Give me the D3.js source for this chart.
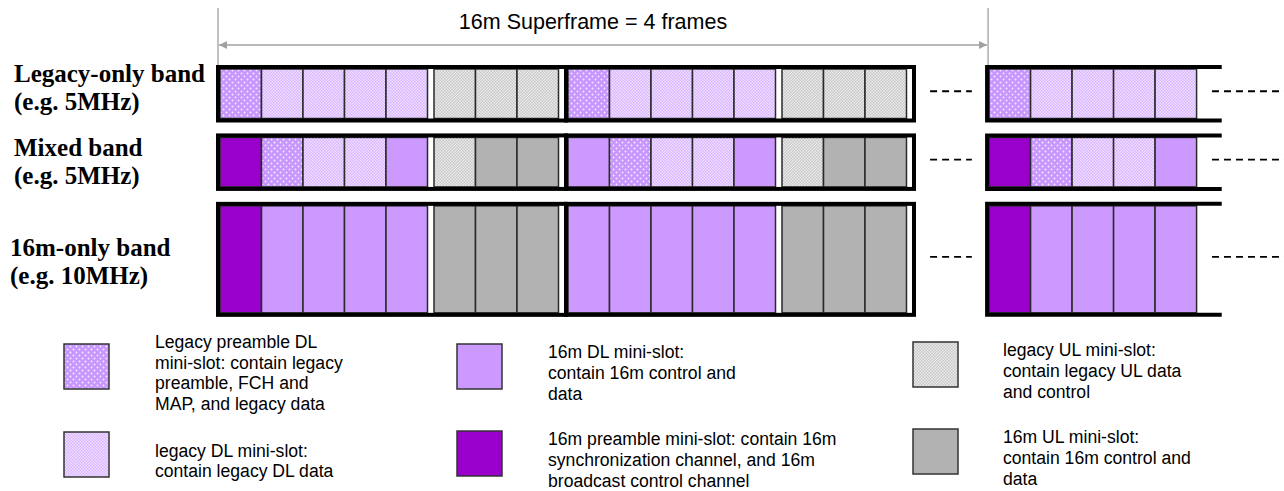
<!DOCTYPE html>
<html>
<head>
<meta charset="utf-8">
<script src="https://cdn.jsdelivr.net/npm/d3@7"></script>
<style>
  body { margin: 0; background: #fff; }
  svg { display: block; }
</style>
</head>
<body>
<div class="chart"></div>
<script>
// ---- data ----
var title = "16m Superframe = 4 frames";

var bandNames = ["Legacy-only band", "Mixed band", "16m-only band"];
var bandNotes = ["(e.g. 5MHz)", "(e.g. 5MHz)", "(e.g. 10MHz)"];
var bandMHz = [5, 5, 10];

// frame positions in "frame" units; the last frame is open on the right
var frameStarts = [0, 1, 2.21];

// mini-slot types per frame, per band
var legacyOnlySlots = [
  ["LP", "LDL", "LDL", "LDL", "LDL", "LUL", "LUL", "LUL"],
  ["LP", "LDL", "LDL", "LDL", "LDL", "LUL", "LUL", "LUL"],
  ["LP", "LDL", "LDL", "LDL", "LDL"]
];
var mixedSlots = [
  ["P16", "LP", "LDL", "LDL", "DL16", "LUL", "UL16", "UL16"],
  ["DL16", "LP", "LDL", "LDL", "DL16", "LUL", "UL16", "UL16"],
  ["P16", "LP", "LDL", "LDL", "DL16"]
];
var only16Slots = [
  ["P16", "DL16", "DL16", "DL16", "DL16", "UL16", "UL16", "UL16"],
  ["DL16", "DL16", "DL16", "DL16", "DL16", "UL16", "UL16", "UL16"],
  ["P16", "DL16", "DL16", "DL16", "DL16"]
];
var bandSlots = [legacyOnlySlots, mixedSlots, only16Slots];

var legendKeys = ["LP", "LDL", "DL16", "P16", "LUL", "UL16"];
var legendTexts = [
  ["Legacy preamble DL", "mini-slot: contain legacy", "preamble, FCH and", "MAP, and legacy data"],
  ["legacy DL mini-slot:", "contain legacy DL data"],
  ["16m DL mini-slot:", "contain 16m control and", "data"],
  ["16m preamble mini-slot: contain 16m", "synchronization channel, and 16m", "broadcast control channel"],
  ["legacy UL mini-slot:", "contain legacy UL data", "and control"],
  ["16m UL mini-slot:", "contain 16m control and", "data"]
];

// ---- layout ----
var W = 1284, H = 491;
var svg = d3.select(".chart").append("svg").attr("width", W).attr("height", H);
var defs = svg.append("defs");

// legacy preamble: purple with white dots
var pLP = defs.append("pattern").attr("id", "pLP").attr("patternUnits", "userSpaceOnUse")
  .attr("width", 6).attr("height", 6);
pLP.append("rect").attr("width", 6).attr("height", 6).attr("fill", "#c896ff");
pLP.append("circle").attr("cx", 1.5).attr("cy", 1.5).attr("r", 0.95).attr("fill", "#f4eaff");
pLP.append("circle").attr("cx", 4.5).attr("cy", 4.5).attr("r", 0.95).attr("fill", "#f4eaff");

// legacy DL: fine lavender checker
var pLDL = defs.append("pattern").attr("id", "pLDL").attr("patternUnits", "userSpaceOnUse")
  .attr("width", 3).attr("height", 3);
pLDL.append("rect").attr("width", 3).attr("height", 3).attr("fill", "#f0e2ff");
pLDL.append("rect").attr("width", 1.5).attr("height", 1.5).attr("fill", "#d8b2ff");
pLDL.append("rect").attr("x", 1.5).attr("y", 1.5).attr("width", 1.5).attr("height", 1.5).attr("fill", "#d8b2ff");

// legacy UL: fine grey checker
var pLUL = defs.append("pattern").attr("id", "pLUL").attr("patternUnits", "userSpaceOnUse")
  .attr("width", 3).attr("height", 3);
pLUL.append("rect").attr("width", 3).attr("height", 3).attr("fill", "#ececec");
pLUL.append("rect").attr("width", 1.5).attr("height", 1.5).attr("fill", "#c6c6c6");
pLUL.append("rect").attr("x", 1.5).attr("y", 1.5).attr("width", 1.5).attr("height", 1.5).attr("fill", "#c6c6c6");

var fills = {
  LP: "url(#pLP)",
  LDL: "url(#pLDL)",
  LUL: "url(#pLUL)",
  DL16: "#cc99ff",
  P16: "#9900cc",
  UL16: "#b2b2b2"
};

// frame units -> px
var xf = d3.scaleLinear().domain([0, 1]).range([216, 564]);
// MHz units -> px (bands stacked with a small gap)
var gapMHz = 0.95;
var yMHz = d3.scaleLinear().domain([0, 1]).range([65, 76.5]);

var bands = bandMHz.map(function (mhz, i) {
  var start = d3.sum(bandMHz.slice(0, i)) + i * gapMHz;
  return { i: i, y0: yMHz(start), y1: yMHz(start + mhz) };
});

// slot geometry inside a frame (frame units)
var border = 4 / 348, slotW = 41.5 / 348, ulGap = 6.5 / 348;
function slotX(k) { return border + k * slotW + (k >= 5 ? ulGap : 0); }

var borderW = 4;
var openLen = 0.68;

// ---- superframe arrow ----
defs.append("marker").attr("id", "arr").attr("viewBox", "0 0 10 10")
  .attr("refX", 10).attr("refY", 5).attr("markerWidth", 10).attr("markerHeight", 8)
  .attr("markerUnits", "userSpaceOnUse").attr("orient", "auto-start-reverse")
  .append("path").attr("d", "M0,0L10,5L0,10Z").attr("fill", "#a0a0a0");

var sfLeft = xf(frameStarts[0]) + 2, sfRight = xf(frameStarts[2]) + 3;
var arrowG = svg.append("g");
[sfLeft, sfRight].forEach(function (x) {
  arrowG.append("line").attr("x1", x).attr("x2", x).attr("y1", 8).attr("y2", 66)
    .attr("stroke", "#a0a0a0").attr("stroke-width", 1.3);
});
arrowG.append("line").attr("x1", sfLeft + 1).attr("x2", sfRight - 1).attr("y1", 45).attr("y2", 45)
  .attr("stroke", "#a0a0a0").attr("stroke-width", 1.5)
  .attr("marker-start", "url(#arr)").attr("marker-end", "url(#arr)");
svg.append("text").attr("x", 593).attr("y", 29).attr("text-anchor", "middle")
  .attr("font-family", "Liberation Sans, Arial, sans-serif").attr("font-size", 21.5)
  .attr("fill", "#000").text(title);

// ---- bands ----
var labelDy = [-12, -6, -3.5];
var labelX = [14, 14, 10];

bands.forEach(function (b) {
  var g = svg.append("g").attr("class", "band");
  var slots = bandSlots[b.i];
  var cy = (b.y0 + b.y1) / 2;

  frameStarts.forEach(function (fs, fi) {
    var list = slots[fi];
    g.selectAll(".cell-" + fi).data(list).enter().append("rect")
      .attr("class", "cell-" + fi)
      .attr("x", function (d, k) { return xf(fs + slotX(k)); })
      .attr("y", b.y0 + borderW)
      .attr("width", xf(slotW) - xf(0))
      .attr("height", b.y1 - b.y0 - 2 * borderW)
      .attr("fill", function (d) { return fills[d]; })
      .attr("stroke", "#2a2a2a").attr("stroke-width", 1.5);

    var x0 = xf(fs), x1 = xf(fs + 1) + borderW;
    if (fi < frameStarts.length - 1) {
      g.append("rect")
        .attr("x", x0 + borderW / 2).attr("y", b.y0 + borderW / 2)
        .attr("width", x1 - x0 - borderW).attr("height", b.y1 - b.y0 - borderW)
        .attr("fill", "none").attr("stroke", "#000").attr("stroke-width", borderW);
    } else {
      var xe = xf(fs + openLen);
      g.append("path")
        .attr("d", "M" + xe + "," + (b.y0 + borderW / 2) +
          "H" + (x0 + borderW / 2) + "V" + (b.y1 - borderW / 2) + "H" + xe)
        .attr("fill", "none").attr("stroke", "#000").attr("stroke-width", borderW);
    }
  });

  // continuation dashes
  [[2.052, 2.172], [2.862, 3.1]].forEach(function (seg) {
    g.append("line").attr("x1", xf(seg[0])).attr("x2", xf(seg[1]))
      .attr("y1", cy - 2.5).attr("y2", cy - 2.5)
      .attr("stroke", "#000").attr("stroke-width", 1.8).attr("stroke-dasharray", "7,5");
  });

  var lbl = g.append("text").attr("font-family", "Liberation Serif, Times New Roman, serif")
    .attr("font-weight", "bold").attr("font-size", 25).attr("fill", "#000");
  lbl.append("tspan").attr("x", labelX[b.i]).attr("y", cy + labelDy[b.i]).text(bandNames[b.i]);
  lbl.append("tspan").attr("x", labelX[b.i]).attr("dy", 28).text(bandNotes[b.i]);
});

// ---- legend ----
var colSwatchX = [64, 457, 913];
var colTextX = [155, 548, 1003];
var rowSwatchY = [[344, 432], [344, 431], [342, 429]];
var sw = 45, lineH = 20.8;

var legend = svg.append("g").attr("class", "legend");
legendKeys.forEach(function (key, i) {
  var c = Math.floor(i / 2), r = i % 2;
  var sy = rowSwatchY[c][r];
  legend.append("rect").attr("x", colSwatchX[c]).attr("y", sy).attr("width", sw).attr("height", sw)
    .attr("fill", fills[key]).attr("stroke", "#333").attr("stroke-width", 1.5);
  var lines = legendTexts[i];
  var base = sy + sw / 2 + 12.5 - (lines.length - 1) * lineH / 2;
  var t = legend.append("text").attr("font-family", "Liberation Sans, Arial, sans-serif")
    .attr("font-size", 17.6).attr("fill", "#000");
  lines.forEach(function (ln, j) {
    t.append("tspan").attr("x", colTextX[c]).attr("y", base + j * lineH).text(ln);
  });
});
</script>
</body>
</html>
